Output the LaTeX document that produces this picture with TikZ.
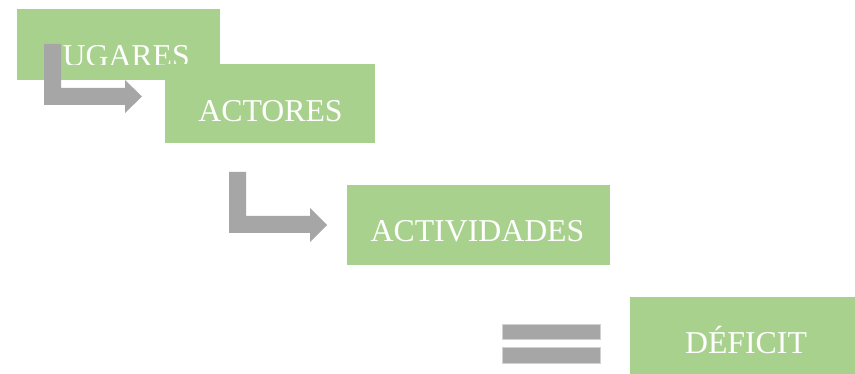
\documentclass[tikz,border=0pt]{standalone}
\usepackage{fontspec}
\setmainfont{Liberation Serif}
\definecolor{boxgreen}{HTML}{A9D18E}
\definecolor{arrowgrey}{HTML}{A6A6A6}
\begin{document}
\begin{tikzpicture}[x=1pt,y=-1pt,
  box/.style={fill=boxgreen, draw=none, inner sep=0, anchor=north west},
  lbl/.style={text=white, font=\fontsize{31.8}{32}\selectfont, anchor=base, inner sep=0},
  bent/.style={fill=arrowgrey, draw=none},
  eqbar/.style={fill=arrowgrey, draw=gray!35, line width=0.6pt}]
\useasboundingbox (0,0) rectangle (855,374);
\path[fill=white] (0,0) rectangle (855,374);
% LUGARES
\node[box, minimum width=203pt, minimum height=71pt] (lug) at (17,9) {};
\begin{scope}
  \clip (17,9) rectangle (220,64.8);
  \node[lbl] (lugt) at (116.5,66.5) {LUGARES};
\end{scope}
% bent arrow 1
\path[bent] (44,44) -- (61,44) -- (61,88) -- (125,88) -- (125,80) -- (142,96.5)
  -- (125,113) -- (125,105) -- (44,105) -- cycle;
% ACTORES
\node[box, minimum width=210pt, minimum height=79pt] (act) at (165,64) {};
\node[lbl] (actt) at (270.5,121.7) {ACTORES};
% bent arrow 2
\path[bent] (229,172) -- (246,172) -- (246,216) -- (310,216) -- (310,208) -- (327,225)
  -- (310,242) -- (310,233) -- (229,233) -- cycle;
% ACTIVIDADES
\node[box, minimum width=263pt, minimum height=80pt] (acv) at (347,185) {};
\node[lbl] (acvt) at (477.5,241.7) {ACTIVIDADES};
% equals
\path[eqbar] (502,324) rectangle (600,339);
\path[eqbar] (502,347) rectangle (600,363);
% DEFICIT
\node[box, minimum width=225pt, minimum height=77pt] (def) at (630,297) {};
\node[lbl] (deft) at (746,353.3) {DÉFICIT};
\end{tikzpicture}
\end{document}
